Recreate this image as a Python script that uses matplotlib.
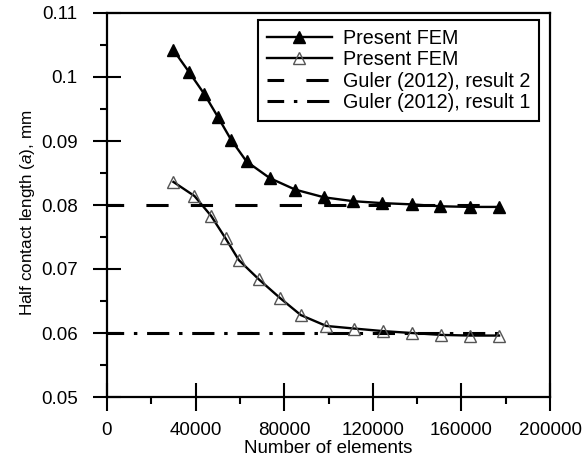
import matplotlib
matplotlib.use("Agg")
import matplotlib.pyplot as plt
from matplotlib.ticker import MultipleLocator, FixedLocator

plt.rcParams['font.family'] = ['Liberation Sans', 'DejaVu Sans']
plt.rcParams['mathtext.fontset'] = 'custom'
plt.rcParams['mathtext.rm'] = 'Liberation Sans'
plt.rcParams['mathtext.it'] = 'Liberation Sans:italic'
plt.rcParams['lines.scale_dashes'] = False

# ---- data ----
x_upper = [30000, 37000, 44000, 50000, 56000, 63000, 73500, 85000, 98000,
           111000, 124000, 137500, 150500, 164000, 177000]
a_upper = [0.1042, 0.1008, 0.0973, 0.0938, 0.0902, 0.0868, 0.0842, 0.0824,
           0.0812, 0.0806, 0.0803, 0.0801, 0.0798, 0.0797, 0.0797]

x_lower = [30000, 39500, 47000, 53500, 59500, 68500, 78000, 87500, 99000,
           111500, 124500, 137500, 151000, 164000, 177000]
a_lower = [0.0836, 0.0814, 0.0783, 0.0748, 0.0714, 0.0684, 0.0655, 0.0628,
           0.0611, 0.0607, 0.0603, 0.0600, 0.0597, 0.0596, 0.0596]

x_ref = [0, 178000]
guler_result2 = [0.08, 0.08]
guler_result1 = [0.06, 0.06]

labels = ["Present FEM", "Present FEM", "Guler (2012), result 2", "Guler (2012), result 1"]
x_ticks = [0, 40000, 80000, 120000, 160000, 200000]
y_ticks = [0.05, 0.06, 0.07, 0.08, 0.09, 0.1, 0.11]
y_ticklabels = ["0.05", "0.06", "0.07", "0.08", "0.09", "0.1", "0.11"]

# ---- figure ----
fig = plt.figure(figsize=(5.85, 4.59), dpi=100)
ax = fig.add_axes([107/585, 1-397/459, 443/585, 384/459])

ax.plot(x_upper, a_upper, color='black', lw=1.7, marker='^', ms=8.5,
        mfc='black', mec='black', label=labels[0], zorder=4)
ax.plot(x_lower, a_lower, color='black', lw=1.7, marker='^', ms=8.5,
        mfc='none', mec='#555555', mew=1.0, label=labels[1], zorder=4)
ax.plot(x_ref, guler_result2, color='black', lw=2.2,
        linestyle=(4, (16, 16)), label=labels[2], zorder=3)
ax.plot(x_ref, guler_result1, color='black', lw=2.2,
        linestyle=(4, (16, 7, 2.5, 7)), label=labels[3], zorder=3)

ax.set_xlim(0, 200000)
ax.set_ylim(0.05, 0.11)
ax.xaxis.set_major_locator(FixedLocator(x_ticks))
ax.set_xticklabels([str(v) for v in x_ticks])
ax.xaxis.set_minor_locator(MultipleLocator(20000))
ax.yaxis.set_major_locator(FixedLocator(y_ticks))
ax.set_yticklabels(y_ticklabels)
ax.yaxis.set_minor_locator(MultipleLocator(0.005))

ax.tick_params(which='major', direction='inout', length=20, width=1.5,
               labelsize=13.5, top=False, right=False)
ax.tick_params(axis='x', which='major', pad=8)
ax.tick_params(axis='y', which='major', pad=11)
ax.tick_params(which='minor', direction='out', length=5, width=1.5,
               top=False, right=False)
for s in ax.spines.values():
    s.set_linewidth(1.6)

ax.set_xlabel("Number of elements", fontsize=13.5, labelpad=1)
ax.set_ylabel("Half contact length ($\\mathit{a}$), mm", fontsize=12.3)
ax.yaxis.set_label_coords(-0.158, 0.48)

leg = ax.legend(loc='upper right', bbox_to_anchor=((539-107)/443, 1-(20-13)/384),
                borderaxespad=0, fontsize=14.2, frameon=True, fancybox=False,
                edgecolor='black', framealpha=1, handlelength=3.3, numpoints=1,
                labelspacing=0.12, borderpad=0.45, handletextpad=0.55)
leg.get_frame().set_linewidth(1.5)

fig.savefig("out.png", dpi=100)
